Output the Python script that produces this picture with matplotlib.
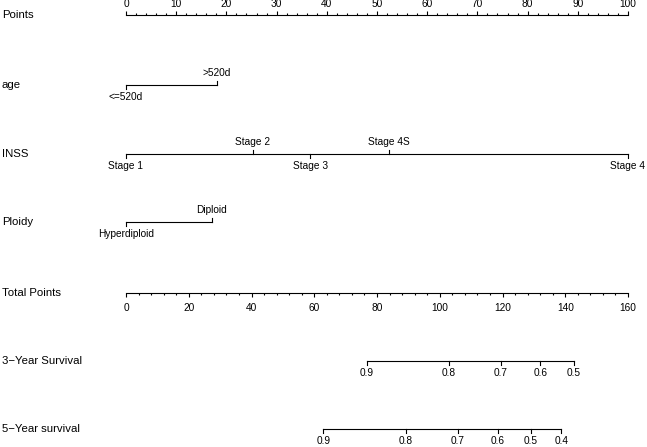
"""Nomogram for neuroblastoma survival (age, INSS stage, ploidy) -> 3/5-year survival."""

import numpy as np
import matplotlib
matplotlib.use("Agg")
import matplotlib.pyplot as plt

plt.rcParams["font.family"] = ["Liberation Sans", "DejaVu Sans"]

# ---- data ----
points_ticks = list(range(0, 101, 10))
total_ticks = list(range(0, 161, 20))

age_levels = ["<=520d", ">520d"]
age_points = [0, 18.1]

inss_levels = ["Stage 1", "Stage 2", "Stage 3", "Stage 4S", "Stage 4"]
inss_points = [0, 25.2, 36.7, 52.3, 100]

ploidy_levels = ["Hyperdiploid", "Diploid"]
ploidy_points = [0, 17.1]

surv3_probs = [0.9, 0.8, 0.7, 0.6, 0.5]
surv3_total = [76.7, 102.9, 119.4, 132.1, 142.8]

surv5_probs = [0.9, 0.8, 0.7, 0.6, 0.5, 0.4]
surv5_total = [62.9, 89.2, 105.7, 118.5, 129.0, 138.7]

# ---- layout (pixels) ----
W, H = 647, 447
X0, X100 = 126, 628          # where 0 and 100 points sit
ROW_Y = {"Points": 15, "age": 85, "INSS": 154, "Ploidy": 222,
         "Total Points": 293, "3\u2212Year Survival": 361,
         "5\u2212Year survival": 429}
LW = 0.8
FS_TICK = 7.3
FS_ROW = 8.2

fig = plt.figure(figsize=(W / 100, H / 100), dpi=100)


def row_axes(name, scale=100):
    """Full-width strip centred on the row line; y units are pixels."""
    y = ROW_Y[name]
    ax = fig.add_axes([0, 1 - (y + 20) / H, 1, 40 / H])
    ppu = (X100 - X0) / scale
    ax.set_xlim(-X0 / ppu, (W - X0) / ppu)
    ax.set_ylim(-20, 20)
    ax.axis("off")
    fig.text(2 / W, 1 - y / H, name, ha="left", va="center", fontsize=FS_ROW)
    return ax


def scale_axis(ax, side, major, minor, hi, pad):
    ax.axis("on")
    ax.patch.set_visible(False)
    for s in ["left", "right", "top", "bottom"]:
        ax.spines[s].set_visible(s == side)
    sp = ax.spines[side]
    sp.set_position(("data", 0))
    sp.set_bounds(0, hi)
    sp.set_linewidth(LW)
    ax.xaxis.set_ticks_position(side)
    ax.set_xticks(major)
    ax.set_xticks(minor, minor=True)
    ax.tick_params(axis="x", which="major", direction="out", length=3,
                   width=LW, labelsize=FS_TICK, pad=pad)
    ax.tick_params(axis="x", which="minor", direction="out", length=1.5,
                   width=LW)
    ax.tick_params(axis="y", left=False, labelleft=False)


def variable_row(name, levels, pts):
    ax = row_axes(name)
    ax.plot([min(pts), max(pts)], [0, 0], color="black", lw=LW)
    order = np.argsort(pts)
    for k, i in enumerate(order):
        # labels alternate below / above along the scale
        sgn = 1 if k % 2 == 1 else -1
        ax.plot([pts[i], pts[i]], [0, 4 * sgn], color="black", lw=LW)
        ax.text(pts[i], 12 * sgn, levels[i], ha="center", va="center",
                fontsize=FS_TICK)


def survival_row(name, probs, totals):
    ax = row_axes(name, scale=160)
    ax.plot([min(totals), max(totals)], [0, 0], color="black", lw=LW)
    for p, t in zip(probs, totals):
        ax.plot([t, t], [0, -4], color="black", lw=LW)
        ax.text(t, -12, f"{p:g}", ha="center", va="center", fontsize=FS_TICK)


ax = row_axes("Points")
scale_axis(ax, "top", points_ticks, np.arange(0, 101, 2), 100, pad=1.5)

variable_row("age", age_levels, age_points)
variable_row("INSS", inss_levels, inss_points)
variable_row("Ploidy", ploidy_levels, ploidy_points)

ax = row_axes("Total Points", scale=160)
scale_axis(ax, "bottom", total_ticks, np.arange(0, 161, 4), 160, pad=4)

survival_row("3\u2212Year Survival", surv3_probs, surv3_total)
survival_row("5\u2212Year survival", surv5_probs, surv5_total)

fig.savefig("out.png", dpi=100)
